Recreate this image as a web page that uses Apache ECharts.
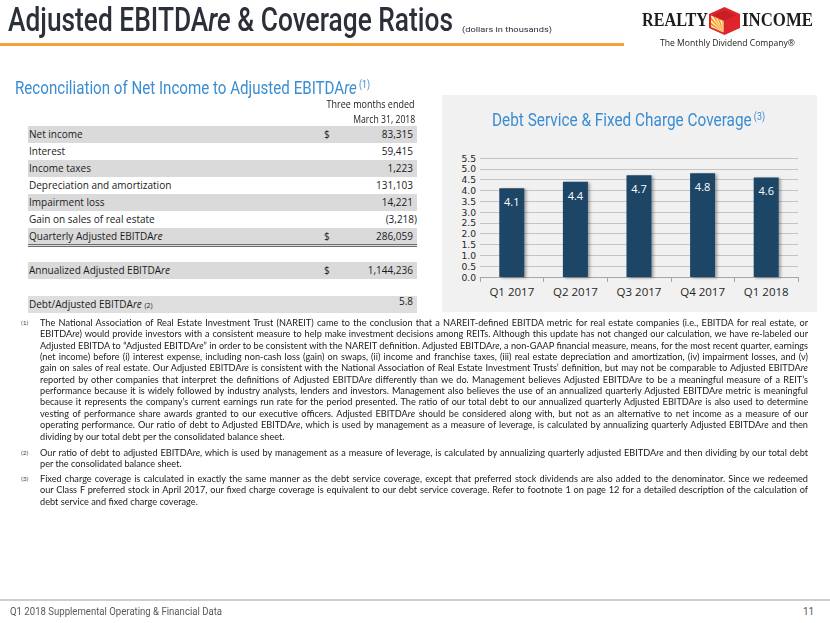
<!DOCTYPE html>
<html><head><meta charset="utf-8">
<script src="https://cdn.jsdelivr.net/npm/echarts@6/dist/echarts.min.js"></script>
<style>
html,body{margin:0;padding:0;width:830px;height:623px;overflow:hidden;background:#fff;font-family:'Open Sans',sans-serif;}
#slide{position:relative;width:830px;height:623px;}
.abs{position:absolute;white-space:nowrap;}
.fit{transform-origin:0 50%;}
.fitr{transform-origin:100% 50%;}
.row{position:absolute;left:28px;width:389px;height:17px;}
.row .lab{position:absolute;left:1px;top:0;line-height:17px;font-size:10px;color:#1a1a1a;}
.row .dol{position:absolute;left:296px;top:0;line-height:17px;font-size:10px;color:#1a1a1a;}
.row .val{position:absolute;right:4px;top:0;line-height:17px;font-size:10px;color:#1a1a1a;}
.note{position:absolute;left:40px;font-family:Lato,'Liberation Sans',sans-serif;font-size:9.3px;color:#1a1a1a;line-height:11px;height:11px;white-space:nowrap;transform-origin:0 50%;}
.mark{position:absolute;left:21px;font-family:Lato,sans-serif;font-size:6.5px;color:#444;line-height:9px;}
</style></head><body>
<div id="slide">
  <div class="abs fit" data-w="445" style="left:8px;top:2px;font-family:Roboto;font-weight:500;font-size:33px;line-height:36px;color:#2b2f38;">Adjusted EBITDA<i>re</i> &amp; Coverage Ratios</div>
  <div class="abs fit" data-w="90" style="left:462px;top:25px;font-family:Roboto;font-size:8px;line-height:10px;color:#2b2f38;">(dollars in thousands)</div>
  <div style="position:absolute;left:0;top:43px;width:624px;height:3px;background:#f7a035;"></div>

  <!-- logo -->
  <div class="abs fit" data-w="66" style="left:642px;top:9px;font-family:'Liberation Serif';font-weight:bold;font-size:18px;line-height:22px;color:#1d1d1d;">REALTY</div>
  <svg style="position:absolute;left:709px;top:7px;" width="31" height="28" viewBox="0 0 31 28">
    <polygon points="15.5,0 31,7 31,21 15.5,28 0,21 0,7" fill="#e0242b"/>
    <polygon points="2,8.5 14.5,14 14.5,25.5 2,20" fill="#fff1c9"/>
    <polygon points="14.5,25.5 2,10 2,13" fill="#f7941d"/>
    <polygon points="14.5,25.5 2,15.5 2,18" fill="#f7941d"/>
    <polygon points="14.5,25.5 4,9.5 6.5,10.5" fill="#f7941d"/>
    <polygon points="14.5,25.5 8.5,11.3 11,12.4" fill="#f7941d"/>
    <polygon points="14.5,25.5 12.8,13.2 14.5,14" fill="#fbb040"/>
    <polygon points="14.5,25.5 2,20 2,19.5" fill="#f7941d"/>
    <polygon points="15.5,3 27,8.3 15.5,13.5 4,8.3" fill="#c81e25"/>
  </svg>
  <div class="abs fit" data-w="71" style="left:742px;top:9px;font-family:'Liberation Serif';font-weight:bold;font-size:18px;line-height:22px;color:#1d1d1d;">INCOME</div>
  <div class="abs fit" data-w="135" style="left:660px;top:37px;font-family:'Open Sans';font-size:8.5px;line-height:12px;color:#222;">The Monthly Dividend Company®</div>

  <!-- section title -->
  <div class="abs fit" data-w="355" style="left:15px;top:79px;font-family:Roboto;font-size:19px;line-height:18px;height:18px;color:#3a8dd2;">Reconciliation of Net Income to Adjusted EBITDA<i>re</i><span style="font-size:11px;vertical-align:6px;line-height:10px;"> (1)</span></div>

  <div class="abs fitr" data-w="88" style="right:415px;top:97px;font-size:10.5px;line-height:14px;color:#1a1a1a;">Three months ended</div>
  <div class="abs fitr" data-w="62" style="right:415px;top:112px;font-size:10.5px;line-height:14px;color:#1a1a1a;">March 31, 2018</div>
  <div style="position:absolute;left:330px;top:126px;width:87px;height:1.5px;background:#5a5a5a;"></div>
  <div id="table"></div>

  <!-- chart panel -->
  <div id="chart" style="position:absolute;left:442px;top:95px;width:375px;height:217px;background:#f1f1f1;"></div>
  <div class="abs fit" data-w="273" style="left:492px;top:111px;font-family:Roboto;font-size:19px;line-height:18px;height:18px;color:#3a8dd2;">Debt Service &amp; Fixed Charge Coverage<span style="font-size:11px;vertical-align:6px;line-height:10px;"> (3)</span></div>

  <div id="notes"></div>

  <div style="position:absolute;left:0;top:599px;width:830px;height:2px;background:#cfcfcf;"></div>
  <div class="abs fit" data-w="212" style="left:10px;top:606px;font-family:Roboto;font-size:10px;line-height:12px;color:#595959;">Q1 2018 Supplemental Operating &amp; Financial Data</div>
  <div class="abs" style="left:803px;top:606px;font-family:Roboto;font-size:10px;line-height:12px;color:#595959;">11</div>
</div>
<script>
// ---- data ----
const categories = ['Q1 2017', 'Q2 2017', 'Q3 2017', 'Q4 2017', 'Q1 2018'];
const coverage = [4.1, 4.4, 4.7, 4.8, 4.6];
const yMin = 0, yMax = 5.5, yStep = 0.5;

const rowLabels = ['Net income', 'Interest', 'Income taxes', 'Depreciation and amortization', 'Impairment loss', 'Gain on sales of real estate', 'Quarterly Adjusted EBITDA<i>re</i>'];
const rowValues = ['83,315', '59,415', '1,223', '131,103', '14,221', '(3,218)', '286,059'];
const rowDollar = [true, false, false, false, false, false, true];
const annualLabel = 'Annualized Adjusted EBITDA<i>re</i>';
const annualValue = '1,144,236';
const debtLabel = 'Debt/Adjusted EBITDA<i>re</i> <span style="font-size:7px">(2)</span>';
const debtValue = '5.8';

const note1 = [
 'The National Association of Real Estate Investment Trust (NAREIT) came to the conclusion that a NAREIT-defined EBITDA metric for real estate companies (i.e., EBITDA for real estate, or',
 'EBITDA<i>re</i>) would provide investors with a consistent measure to help make investment decisions among REITs. Although this update has not changed our calculation, we have re-labeled our',
 'Adjusted EBITDA to \u201cAdjusted EBITDA<i>re</i>\u201d in order to be consistent with the NAREIT definition. Adjusted EBITDA<i>re</i>, a non-GAAP financial measure, means, for the most recent quarter, earnings',
 '(net income) before (i) interest expense, including non-cash loss (gain) on swaps, (ii) income and franchise taxes, (iii) real estate depreciation and amortization, (iv) impairment losses, and (v)',
 'gain on sales of real estate. Our Adjusted EBITDA<i>re</i> is consistent with the National Association of Real Estate Investment Trusts\u2019 definition, but may not be comparable to Adjusted EBITDA<i>re</i>',
 'reported by other companies that interpret the definitions of Adjusted EBITDA<i>re</i> differently than we do. Management believes Adjusted EBITDA<i>re</i> to be a meaningful measure of a REIT\u2019s',
 'performance because it is widely followed by industry analysts, lenders and investors. Management also believes the use of an annualized quarterly Adjusted EBITDA<i>re</i> metric is meaningful',
 'because it represents the company\u2019s current earnings run rate for the period presented. The ratio of our total debt to our annualized quarterly Adjusted EBITDA<i>re</i> is also used to determine',
 'vesting of performance share awards granted to our executive officers. Adjusted EBITDA<i>re</i> should be considered along with, but not as an alternative to net income as a measure of our',
 'operating performance. Our ratio of debt to Adjusted EBITDA<i>re</i>, which is used by management as a measure of leverage, is calculated by annualizing quarterly Adjusted EBITDA<i>re</i> and then',
 'dividing by our total debt per the consolidated balance sheet.'
];
const note2 = [
 'Our ratio of debt to adjusted EBITDA<i>re</i>, which is used by management as a measure of leverage, is calculated by annualizing quarterly adjusted EBITDA<i>re</i> and then dividing by our total debt',
 'per the consolidated balance sheet.'
];
const note3 = [
 'Fixed charge coverage is calculated in exactly the same manner as the debt service coverage, except that preferred stock dividends are also added to the denominator. Since we redeemed',
 'our Class F preferred stock in April 2017, our fixed charge coverage is equivalent to our debt service coverage. Refer to footnote 1 on page 12 for a detailed description of the calculation of',
 'debt service and fixed charge coverage.'
];

// ---- table ----
const table = document.getElementById('table');
function addRow(top, label, value, dollar, bg, extra) {
  const r = document.createElement('div');
  r.className = 'row';
  r.style.top = top + 'px';
  r.style.background = bg;
  if (extra) Object.assign(r.style, extra);
  const neg = value.startsWith('(');
  r.innerHTML = '<span class="lab">' + label + '</span>' + (dollar ? '<span class="dol">$</span>' : '') +
    '<span class="val" style="' + (neg ? 'right:0px' : '') + '">' + value + '</span>';
  table.appendChild(r);
  return r;
}
rowLabels.forEach((l, i) => {
  addRow(126 + 17 * i, l, rowValues[i], rowDollar[i], i % 2 === 0 ? '#dadada' : '#ffffff',
    i === rowLabels.length - 1 ? {borderBottom: '3px double #6f6f6f', height: '16px'} : null);
});
addRow(126 + 17 * 8, annualLabel, annualValue, true, '#dadada');
const dr = addRow(126 + 17 * 10, debtLabel, debtValue, false, '#dedede');
dr.querySelector('.val').style.top = '-3px';

// ---- notes ----
const notes = document.getElementById('notes');
const noteBlocks = [[note1, 322.5, '(1)'], [note2, 452.5, '(2)'], [note3, 478.5, '(3)']];
const lh = 11.35;
const noteEls = [];
noteBlocks.forEach(([lines, y0, m]) => {
  const mk = document.createElement('div');
  mk.className = 'mark'; mk.textContent = m; mk.style.top = (y0 - 4.5) + 'px';
  notes.appendChild(mk);
  lines.forEach((t, i) => {
    const d = document.createElement('div');
    d.className = 'note';
    d.innerHTML = t;
    d.style.top = (y0 + i * lh - 5.5) + 'px';
    notes.appendChild(d);
    noteEls.push([d, i === lines.length - 1]);
  });
});
function layoutNotes() {
  const target = 768;
  let scaleMin = 1;
  noteEls.forEach(([d]) => {
    d.style.wordSpacing = '0px'; d.style.transform = '';
  });
  noteEls.forEach(([d, last]) => {
    if (last) return;
    const w = d.getBoundingClientRect().width;
    scaleMin = Math.min(scaleMin, target / w);
  });
  noteEls.forEach(([d, last]) => {
    d.style.transform = 'scaleX(' + scaleMin + ')';
    if (!last) {
      const w = d.getBoundingClientRect().width / scaleMin;
      const n = (d.textContent.match(/ /g) || []).length;
      d.style.wordSpacing = ((target / scaleMin - w) / n) + 'px';
    }
  });
  document.querySelectorAll('.fit, .fitr').forEach(el => {
    el.style.transform = '';
    const w = el.getBoundingClientRect().width;
    el.style.transform = 'scaleX(' + (+el.dataset.w / w) + ')';
  });
}

// ---- chart ----
const chart = echarts.init(document.getElementById('chart'), null, {renderer: 'svg'});
chart.setOption({
  animation: false,
  grid: {left: 38, right: 19, top: 63, bottom: 35},
  xAxis: {
    type: 'category', data: categories,
    axisLine: {lineStyle: {color: '#a6a6a6'}},
    axisTick: {show: true, length: 5, lineStyle: {color: '#a6a6a6'}},
    axisLabel: {color: '#262626', fontSize: 11.5, fontFamily: 'Open Sans', margin: 8}
  },
  yAxis: {
    type: 'value', min: yMin, max: yMax, interval: yStep,
    axisLine: {show: false}, axisTick: {show: false},
    splitLine: {lineStyle: {color: '#c4c4c4'}},
    axisLabel: {color: '#262626', fontSize: 9.2, lineHeight: 10, fontFamily: 'DejaVu Sans', margin: 4, hideOverlap: false,
      showMinLabel: true, showMaxLabel: true, formatter: v => v.toFixed(1)}
  },
  series: [{
    type: 'bar', data: coverage, barWidth: 25,
    itemStyle: {color: '#1b4566', shadowColor: 'rgba(0,0,0,0.35)', shadowBlur: 3, shadowOffsetX: 2, shadowOffsetY: 1},
    label: {show: true, position: 'insideTop', distance: 8, color: '#ffffff', fontSize: 11, fontFamily: 'Open Sans', formatter: p => p.value.toFixed(1)}
  }]
});

layoutNotes();
if (document.fonts && document.fonts.ready) document.fonts.ready.then(layoutNotes);
</script>
</body></html>
